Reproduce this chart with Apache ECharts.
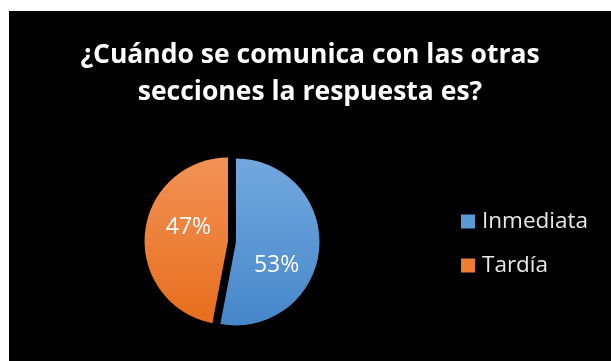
<!DOCTYPE html>
<html>
<head>
<meta charset="utf-8">
<script src="https://cdn.jsdelivr.net/npm/echarts@6/dist/echarts.min.js"></script>
<style>
  html, body { margin: 0; padding: 0; background: #ffffff; }
  #chart { position: absolute; left: 9px; top: 11px; width: 602px; height: 350px; background: #000000; }
</style>
</head>
<body>
<div id="chart"></div>
<script>
// Chart data
var titleLines = ['¿Cuándo se comunica con las otras', 'secciones la respuesta es?'];
var categories = ['Inmediata', 'Tardía'];
var percentages = [53, 47];

// Slice fills: light at the top, deeper at the bottom
var gradients = [
  ['#72a8de', '#4687ca'],
  ['#f29257', '#e76e1d']
];
var legendColors = ['#5b9bd5', '#ed7d31'];
// Nudges for the in-slice percentage labels
var labelShifts = [[-4, 19], [5, -9]];

var chart = echarts.init(document.getElementById('chart'), null, { renderer: 'canvas' });

var pieData = categories.map(function (name, i) {
  var fill = new echarts.graphic.LinearGradient(0, 0, 0, 1, [
    { offset: 0, color: gradients[i][0] },
    { offset: 1, color: gradients[i][1] }
  ]);
  return {
    name: name,
    value: percentages[i],
    selected: true,
    itemStyle: { color: fill },
    select: { itemStyle: { color: fill } }
  };
});

chart.setOption({
  backgroundColor: '#000000',
  animation: false,
  title: {
    text: titleLines.join('\n'),
    left: 'center',
    top: 21,
    textStyle: {
      color: '#ffffff',
      fontFamily: 'Open Sans',
      fontWeight: 'bold',
      fontSize: 26.5,
      lineHeight: 37
    }
  },
  legend: {
    orient: 'vertical',
    left: 447,
    top: 194,
    itemWidth: 14,
    itemHeight: 14,
    itemGap: 21,
    icon: 'rect',
    selectedMode: false,
    data: categories.map(function (c, i) {
      return { name: c, itemStyle: { color: legendColors[i] } };
    }),
    textStyle: {
      color: '#e8e8e8',
      fontFamily: 'Open Sans',
      fontSize: 22.5,
      padding: [0, 0, 0, 2]
    }
  },
  series: [{
    type: 'pie',
    center: [223, 230.5],
    radius: 83.5,
    startAngle: 90,
    clockwise: true,
    selectedMode: 'multiple',
    selectedOffset: 4,
    emphasis: { disabled: true },
    label: {
      show: true,
      position: 'inside',
      formatter: '{c}%',
      color: '#ffffff',
      fontFamily: 'Open Sans',
      fontSize: 23
    },
    labelLayout: function (params) {
      var s = labelShifts[params.dataIndex];
      return { dx: s[0], dy: s[1] };
    },
    labelLine: { show: false },
    data: pieData
  }]
});
</script>
</body>
</html>
